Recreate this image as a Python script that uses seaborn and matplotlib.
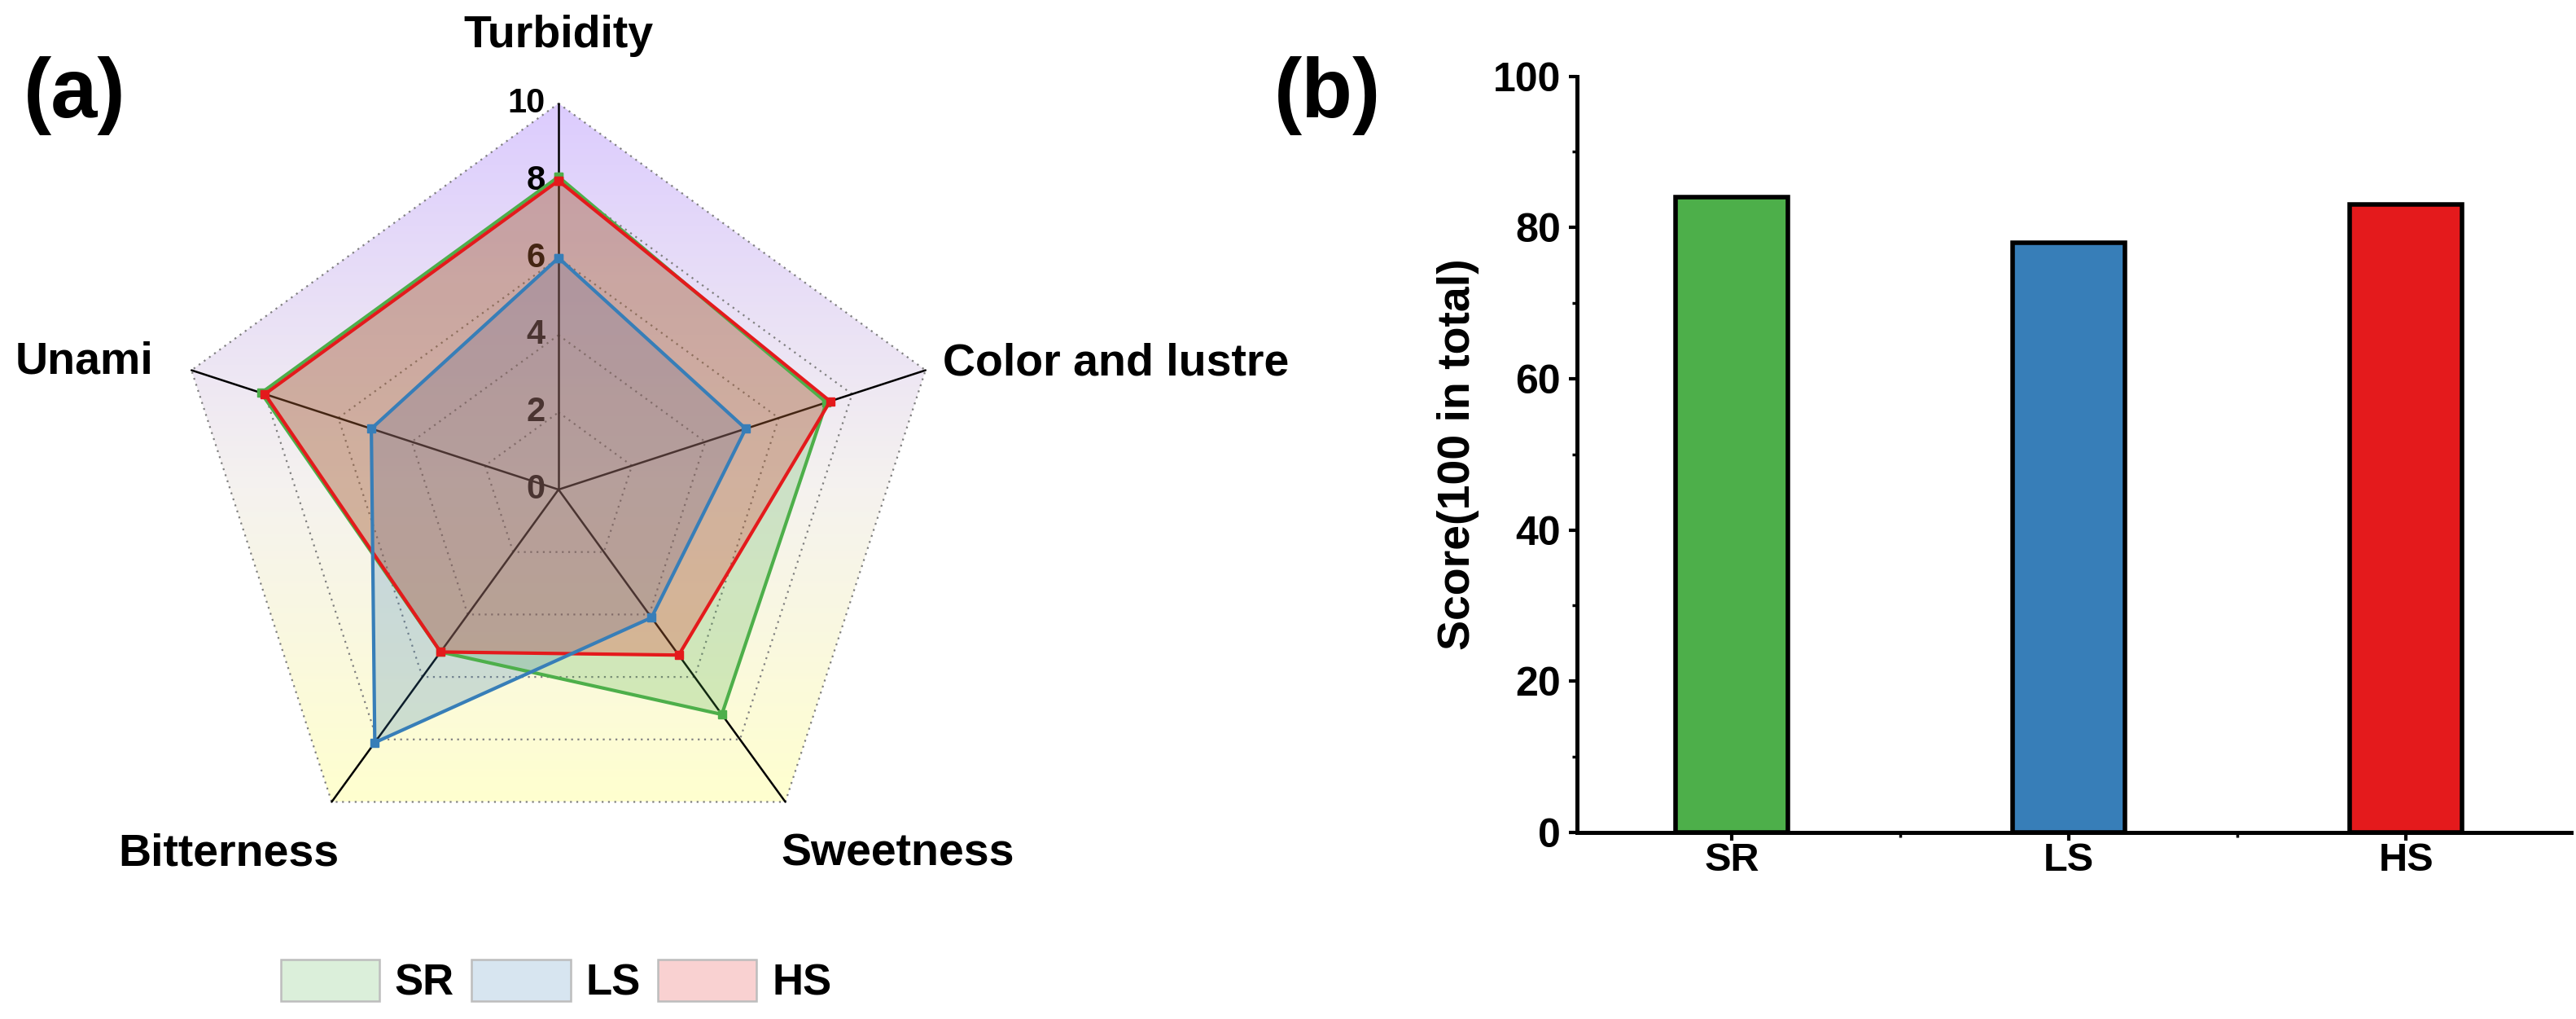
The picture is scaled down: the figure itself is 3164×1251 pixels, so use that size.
import numpy as np
import pandas as pd
import matplotlib
matplotlib.use("Agg")
import matplotlib.pyplot as plt
from matplotlib.colors import LinearSegmentedColormap, to_rgba
from matplotlib.patches import Polygon, Patch
from matplotlib.ticker import MultipleLocator
import seaborn as sns

sns.set_style("ticks", {"axes.edgecolor": "black", "text.color": "black",
                        "axes.labelcolor": "black", "xtick.color": "black",
                        "ytick.color": "black"})
plt.rcParams['font.family'] = ['Liberation Sans', 'DejaVu Sans']
plt.rcParams['font.weight'] = 'bold'

# --- data ---
attributes = ["Turbidity", "Color and lustre", "Sweetness", "Bitterness", "Unami"]
samples = ["SR", "LS", "HS"]
sr_scores = [8.1, 7.3, 7.2, 5.2, 8.1]
ls_scores = [6.0, 5.1, 4.1, 8.1, 5.1]
hs_scores = [8.0, 7.4, 5.3, 5.2, 8.0]
radar_ticks = [0, 2, 4, 6, 8, 10]
total_scores = [84, 78, 83]
colors = ["#4DAF4A", "#377EB8", "#E41A1C"]

W, H = 3164, 1251
fig = plt.figure(figsize=(W / 100, H / 100), dpi=100)

# --- (a) radar chart ---
px = 47.4  # pixels per score unit
cx, cy = 686, H - 601
ax = fig.add_axes([(cx - 650) / W, (cy - 590) / H, 1300 / W, 1180 / H])
ax.set_xlim(-650 / px, 650 / px)
ax.set_ylim(-590 / px, 590 / px)
ax.axis("off")

angles = np.deg2rad(90 - 72 * np.arange(len(attributes)))


def to_xy(vals, closed=True):
    v = np.asarray(vals, dtype=float)
    x, y = v * np.cos(angles), v * np.sin(angles)
    if closed:
        x, y = np.append(x, x[0]), np.append(y, y[0])
    return x, y


rmax = radar_ticks[-1]
ox, oy = to_xy([rmax] * len(attributes), closed=False)
outer = Polygon(np.column_stack([ox, oy]), closed=True, transform=ax.transData,
                facecolor="none", edgecolor="none")
ax.add_patch(outer)
grad_cmap = LinearSegmentedColormap.from_list(
    "bg", [(0, "#FFFFCF"), (0.45, "#F5F2EF"), (1, "#DCCCFE")])
img = ax.imshow(np.linspace(0, 1, 256).reshape(-1, 1), cmap=grad_cmap,
                extent=(ox.min(), ox.max(), oy.min(), oy.max()),
                origin="lower", aspect="auto", zorder=0)
img.set_clip_path(outer)

# dotted pentagon grid
for lvl in radar_ticks[1:]:
    gx, gy = to_xy([lvl] * len(attributes))
    ax.plot(gx, gy, color="#7F7F7F", lw=1.6, ls=(0, (1, 2.5)), zorder=1)

# spokes
for a in angles:
    ax.plot([0, rmax * np.cos(a)], [0, rmax * np.sin(a)], color="black", lw=1.8, zorder=2)

for t in radar_ticks:
    ax.text(-0.35, t, str(t), ha="right", va="center", fontsize=30,
            fontweight="bold", color="black", zorder=2)

series = {"SR": sr_scores, "LS": ls_scores, "HS": hs_scores}
for (name, vals), c in zip(series.items(), colors):
    x, y = to_xy(vals)
    ax.fill(x, y, color=c, alpha=0.24, lw=0, zorder=3)
for name, c in [("SR", colors[0]), ("HS", colors[2]), ("LS", colors[1])]:
    x, y = to_xy(series[name])
    ax.plot(x, y, color=c, lw=3, marker="s", ms=7, zorder=4)

lab_kw = dict(fontsize=40, fontweight="bold", va="center", color="black")
ax.text(0, 11.75, attributes[0], ha="center", **lab_kw)
ax.text(9.95, 3.25, attributes[1], ha="left", **lab_kw)
ax.text(8.8, -9.45, attributes[2], ha="center", **lab_kw)
ax.text(-8.55, -9.45, attributes[3], ha="center", **lab_kw)
ax.text(-10.5, 3.3, attributes[4], ha="right", **lab_kw)

handles = [Patch(facecolor=to_rgba(c, 0.2), edgecolor="#BDBDBD", lw=1.8) for c in colors]
fig.legend(handles, samples, loc="center", bbox_to_anchor=(683 / W, 1 - 1205 / H), ncol=3,
           frameon=False, prop={"size": 38, "weight": "bold"}, handlelength=2.3,
           handleheight=1.1, handletextpad=0.36, columnspacing=0.4)

fig.text(29 / W, 1 - 118 / H, "(a)", fontsize=74, fontweight="bold", ha="left", va="center",
         color="black")
fig.text(1630 / W, 1 - 118 / H, "(b)", fontsize=74, fontweight="bold", ha="center", va="center",
         color="black")

# --- (b) bar chart ---
bl, br, bt, bb = 1937, 3158, 93.6, 1022
axb = fig.add_axes([bl / W, (H - bb) / H, (br - bl) / W, (bb - bt) / H])
df = pd.DataFrame({"Sample": samples, "Score": total_scores})
sns.barplot(data=df, x="Sample", y="Score", hue="Sample", palette=colors, width=0.333,
            saturation=1, edgecolor="black", linewidth=4, legend=False, ax=axb)
axb.set_xlim(-0.459, 2.49)
axb.set_ylim(0, 100)
axb.yaxis.set_major_locator(MultipleLocator(20))
axb.yaxis.set_minor_locator(MultipleLocator(10))
axb.set_xticks([0.5, 1.5], minor=True)
sns.despine(ax=axb)
for s in ["left", "bottom"]:
    axb.spines[s].set_linewidth(3.6)
    axb.spines[s].set_color("black")
axb.tick_params(axis="y", which="major", length=7.5, width=3, labelsize=36, pad=7)
axb.tick_params(axis="x", which="major", length=7.5, width=3, labelsize=35, pad=1)
axb.tick_params(axis="both", which="minor", length=4.5, width=2.5)
axb.tick_params(axis="both", which="both", color="black", labelcolor="black")
for lab in axb.get_xticklabels() + axb.get_yticklabels():
    lab.set_fontweight("bold")
axb.set_xlabel("")
axb.set_ylabel("Score(100 in total)", fontsize=40, fontweight="bold", color="black")
axb.yaxis.set_label_coords(-0.098, 0.5)

fig.savefig("out.png", dpi=100)
